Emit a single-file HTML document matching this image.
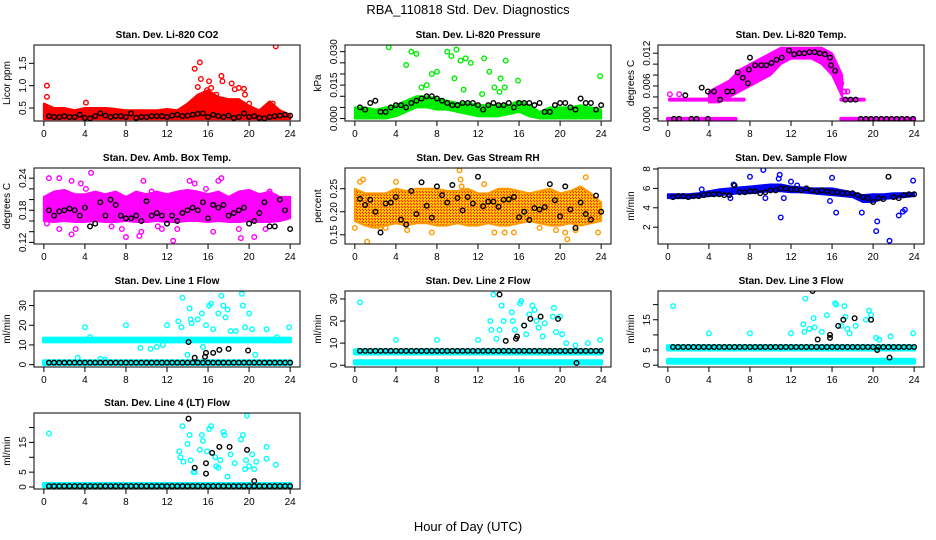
<!DOCTYPE html>
<html><head><meta charset="utf-8">
<style>
html,body{margin:0;padding:0;background:#fff;}
svg{display:block;font-family:"Liberation Sans",Arial,sans-serif;}
</style></head>
<body>
<svg id="chart" width="936" height="540" viewBox="0 0 936 540" xmlns="http://www.w3.org/2000/svg">
<defs>
<pattern id="rhpat" width="3" height="3" patternUnits="userSpaceOnUse">
<rect width="3" height="3" fill="#ffaa00"/><rect width="1" height="1" fill="#ff2200"/><rect x="1" y="1" width="1" height="1" fill="#ffee00"/><rect x="2" y="2" width="1" height="1" fill="#ff3300"/>
</pattern>
</defs>
<text x="468" y="14" text-anchor="middle" font-size="13">RBA_110818  Std. Dev. Diagnostics</text>
<text x="468" y="531" text-anchor="middle" font-size="13">Hour of Day (UTC)</text>
</svg>
<script>
const hours = [0,1,2,3,4,5,6,7,8,9,10,11,12,13,14,15,16,17,18,19,20,21,22,23,24];
const blackHours = [0.5,1,1.5,2,2.5,3,3.5,4,4.5,5,5.5,6,6.5,7,7.5,8,8.5,9,9.5,10,10.5,11,11.5,12,12.5,13,13.5,14,14.5,15,15.5,16,16.5,17,17.5,18,18.5,19,19.5,20,20.5,21,21.5,22,22.5,23,23.5,24];
const xTicks = [0,4,8,12,16,20,24];

// CO2
const co2Lo = [0.25,0.25,0.25,0.25,0.25,0.25,0.25,0.25,0.25,0.25,0.25,0.25,0.25,0.25,0.25,0.25,0.25,0.25,0.25,0.25,0.25,0.25,0.25,0.25,0.25];
const co2Hi = [0.6,0.5,0.5,0.45,0.5,0.5,0.5,0.48,0.45,0.45,0.45,0.45,0.48,0.45,0.6,0.8,0.9,0.75,0.7,0.7,0.55,0.45,0.65,0.45,0.35];
const co2OutX = [0.3,0.3,4.1,14.7,15.2,15.3,15.0,16.1,16.3,15.9,17.3,17.4,18.3,18.6,19.0,19.5,19.6,16.8,17.0,22.6,20.0,22.3];
const co2OutY = [1.0,0.75,0.62,1.38,1.52,1.15,0.97,1.1,0.95,0.9,1.22,1.1,1.05,0.92,0.95,0.93,0.8,0.8,0.7,1.88,0.6,0.6];
const co2Black = [0.32,0.3,0.3,0.32,0.3,0.3,0.35,0.28,0.27,0.32,0.38,0.33,0.3,0.32,0.32,0.3,0.38,0.28,0.3,0.3,0.32,0.32,0.32,0.3,0.33,0.35,0.32,0.33,0.35,0.37,0.38,0.3,0.35,0.32,0.3,0.33,0.28,0.3,0.38,0.3,0.32,0.28,0.27,0.3,0.32,0.33,0.35,0.33];

// Pressure
const prLo = [0,0,0,0,0.001,0.003,0.005,0.005,0.004,0.004,0.003,0.002,0.001,0.001,0.001,0.002,0.003,0.001,0,0,0,0,0,0,0];
const prHi = [0.005,0.005,0.004,0.005,0.006,0.008,0.01,0.01,0.009,0.008,0.007,0.007,0.006,0.006,0.006,0.006,0.008,0.006,0.003,0.005,0.005,0.005,0.006,0.005,0.004];
const prOutX = [3.3,5.0,5.5,6.0,6.5,7.0,7.5,8.0,9.0,9.4,9.7,9.9,10.3,10.8,10.6,11.3,12.4,12.6,13.1,13.6,14.1,14.2,14.6,14.7,15.9,23.9];
const prOutY = [0.032,0.024,0.030,0.029,0.014,0.015,0.020,0.021,0.030,0.028,0.018,0.031,0.026,0.027,0.013,0.025,0.011,0.027,0.021,0.014,0.012,0.018,0.014,0.026,0.017,0.019];
const prBlack = [0.005,0.004,0.007,0.008,0.003,0.003,0.005,0.006,0.006,0.005,0.007,0.008,0.009,0.01,0.01,0.009,0.008,0.007,0.006,0.006,0.007,0.007,0.007,0.006,0.004,0.006,0.007,0.006,0.006,0.007,0.005,0.007,0.007,0.007,0.006,0.007,0.003,0.003,0.006,0.007,0.007,0.005,0.004,0.009,0.007,0.007,0.004,0.006];

// Li-820 Temp
const tmLo = [null,null,null,null,0.003,0.003,0.004,0.005,0.006,0.007,0.008,0.01,0.011,0.011,0.011,0.01,0.008,0.004,null,null,null,null,null,null,null];
const tmHi = [null,null,null,null,0.005,0.006,0.007,0.009,0.01,0.011,0.012,0.013,0.013,0.013,0.013,0.013,0.012,0.008,null,null,null,null,null,null,null];
const tmSegX1 = [0,16.9,0.2,16.9];
const tmSegX2 = [6.6,24,7.4,19.1];
const tmSegY = [0,0,0.0035,0.0035];
const tmOutX = [0.2,1.1,16.9,17.2,17.5,16.5,6.3,7.0];
const tmOutY = [0.0045,0.0045,0.0065,0.005,0.005,0.009,0.006,0.0065];
const tmBlackX = [0.6,1.1,2.3,2.8,3.9,1.7,3.3,3.9,4.5,5.1,5.8,6.3,6.8,7.3,7.8,7.9,8.0,8.5,9.1,9.6,10.1,10.6,11.1,11.8,12.3,12.8,13.3,13.8,14.3,14.8,15.3,15.8,15.9,16.3,17.3,17.8,18.3,18.8,19.3,19.8,20.3,20.8,21.3,21.8,22.3,22.8,23.3,23.9];
const tmBlackY = [0,0,0,0,0,0.0043,0.0057,0.005,0.005,0.0035,0.005,0.005,0.0085,0.0075,0.0065,0.009,0.0112,0.0098,0.0098,0.0098,0.0102,0.0108,0.0112,0.0125,0.0118,0.012,0.012,0.0122,0.0122,0.012,0.0118,0.0112,0.0098,0.0088,0.0035,0.0035,0.0035,0,0,0,0,0,0,0,0,0,0,0];

// Amb box temp
const ambLo = [0.16,0.158,0.16,0.158,0.158,0.16,0.158,0.158,0.16,0.158,0.158,0.16,0.158,0.158,0.16,0.16,0.158,0.16,0.158,0.158,0.16,0.158,0.158,0.16,0.165];
const ambHi = [0.205,0.215,0.218,0.21,0.21,0.215,0.21,0.215,0.205,0.215,0.21,0.215,0.21,0.215,0.218,0.215,0.21,0.215,0.205,0.215,0.218,0.21,0.215,0.205,0.205];
const ambOutX = [0.5,0.3,1.5,2.7,3.1,4.6,1.5,2.7,3.6,6.6,7.6,8.0,9.3,9.7,10.5,11.5,12.6,13.0,14.2,14.7,16.5,17.0,17.3,19.0,19.2,20.5,20.8,21.6,22.0,23.3,4.1,9.5,11.1,15.8];
const ambOutY = [0.24,0.155,0.145,0.235,0.145,0.25,0.24,0.135,0.23,0.15,0.145,0.13,0.132,0.235,0.215,0.145,0.123,0.145,0.235,0.23,0.14,0.235,0.24,0.145,0.128,0.13,0.27,0.145,0.215,0.2,0.22,0.14,0.15,0.22];
const ambBlack = [0.18,0.17,0.178,0.18,0.183,0.18,0.17,0.185,0.15,0.155,0.195,0.17,0.2,0.19,0.17,0.165,0.165,0.17,0.16,0.197,0.17,0.175,0.17,0.155,0.17,0.16,0.175,0.18,0.185,0.18,0.195,0.165,0.19,0.185,0.19,0.17,0.175,0.18,0.185,0.155,0.16,0.175,0.195,0.15,0.15,0.2,0.18,0.145];

// Gas stream RH
const rhLo = [0.18,0.17,0.165,0.17,0.175,0.17,0.175,0.175,0.17,0.17,0.175,0.17,0.17,0.175,0.17,0.17,0.175,0.18,0.175,0.17,0.17,0.175,0.17,0.175,0.18];
const rhHi = [0.25,0.24,0.24,0.24,0.25,0.245,0.25,0.25,0.25,0.245,0.245,0.25,0.24,0.24,0.25,0.25,0.245,0.24,0.245,0.25,0.24,0.245,0.255,0.24,0.22];
const rhOutX = [0,0.5,0.8,4.0,5.1,7.5,10.2,10.3,10.4,12.6,13.6,14.6,15.5,18.0,19.6,20.5,20.7,21.5,22.5,23.7,1.2,1.7,3.0,2.5];
const rhOutY = [0.165,0.265,0.27,0.265,0.16,0.155,0.29,0.27,0.255,0.26,0.155,0.155,0.155,0.165,0.16,0.155,0.14,0.16,0.275,0.155,0.135,0.17,0.165,0.165];
const rhBlack = [0.228,0.215,0.226,0.2,0.155,0.218,0.22,0.232,0.183,0.172,0.245,0.195,0.264,0.213,0.187,0.255,0.236,0.22,0.258,0.23,0.203,0.232,0.218,0.276,0.212,0.222,0.222,0.211,0.226,0.227,0.232,0.188,0.2,0.182,0.208,0.205,0.21,0.26,0.225,0.19,0.255,0.205,0.165,0.22,0.195,0.183,0.235,0.2];

// Sample flow
const sfLo = [5.0,5.0,5.0,5.1,5.2,5.3,5.4,5.5,5.5,5.6,5.7,5.7,5.6,5.6,5.5,5.4,5.3,5.2,5.1,4.6,4.6,4.9,5.0,5.1,5.2];
const sfHi = [5.4,5.4,5.4,5.5,5.7,5.9,6.0,6.1,6.2,6.3,6.4,6.4,6.2,6.1,6.0,6.0,6.0,5.8,5.6,5.3,5.4,5.4,5.5,5.5,5.5];
const sfOutX = [3.3,6.1,6.4,8.0,9.3,9.5,10.8,10.9,11.0,11.3,12.0,15.8,16.0,16.4,18.9,20.3,20.4,21.6,22.5,22.9,23.1,23.9,12.6];
const sfOutY = [5.9,5.0,6.4,7.2,7.9,5.0,7.0,7.4,3.0,5.0,6.7,4.7,7.1,3.5,3.5,1.6,2.6,0.6,3.2,3.6,3.8,6.8,6.3];
const sfBlack = [5.1,5.2,5.2,5.1,5.2,5.2,5.3,5.4,5.4,5.4,5.3,5.3,6.3,5.6,5.6,5.7,5.7,5.5,5.6,5.8,5.8,6.0,6.0,5.9,5.9,5.8,6.0,5.8,5.7,5.8,5.7,5.6,5.6,5.5,5.5,5.5,5.3,5.1,5.0,4.6,5.0,4.9,7.2,5.1,5.0,5.3,5.4,5.4];

// Line 1
const l1SegX1 = [0,0]; const l1SegX2 = [24,24]; const l1SegLo = [11.8,0.3]; const l1SegHi = [13.2,1.7];
const l1OutX = [3.3,4.0,4.5,5.5,6,8,9.4,10.4,11,11.6,12,13.1,13.4,13.5,14.2,14.3,14.4,15,15.4,15.8,16.1,16.3,16.5,17.0,17.3,17.5,17.7,17.9,18.2,18.7,19.3,19.4,19.6,20.0,20.3,20.6,21.7,22.7,23.9,14.0,15.5];
const l1OutY = [3.5,19,14,3,2.5,20,8.5,8,9,10,20,22,19,34,28.5,23,21,23,26,20,30,31,18,26,35,30,24,28,17,17,36,30,19,26,18,5,18,14,19,5,9];
const l1BlackBase = 1;
const l1ExtraX = [14.1,14.7,15.7,15.8,16.5,17.1,18.0,19.9];
const l1ExtraY = [11.5,3.5,4,6,6,7.5,8,7.2];

// Line 2
const l2SegX1 = [0,0]; const l2SegX2 = [24,24]; const l2SegLo = [5.3,0.8]; const l2SegHi = [6.8,1.8];
const l2OutX = [0.5,4,8,12,13.2,13.3,13.5,14.1,14.3,14.5,15.3,15.4,15.6,16.1,16.2,16.5,17.0,17.3,17.5,17.7,17.9,18.3,19.3,19.4,19.6,20.0,20.2,20.6,21.5,22.7,23.9,13.8,16.7,18.5];
const l2OutY = [28.5,11.5,11.5,11.5,20,16,32,16,27,20,24,20,16,28,29,18,23,27,25,20,17,13,22,26,15,22,14,10,9,10,11.5,12,14,19];
const l2BlackBase = 6.5;
const l2ExtraX = [14.1,14.7,15.7,15.8,16.5,17.1,18.1,19.8,21.6];
const l2ExtraY = [32,11,12,13,18,21,22,21,1];

// Line 3
const l3SegX1 = [0,0]; const l3SegX2 = [24,24]; const l3SegLo = [5.2,0.8]; const l3SegHi = [6.3,1.8];
const l3OutX = [0.5,4,8,12,13.2,13.3,13.4,13.8,14.2,14.3,15.5,16.3,16.4,17.2,17.3,17.5,17.7,18.3,19.3,19.6,19.8,20.3,20.6,21.7,23.9,15.0,16.9];
const l3OutY = [19.5,10.5,10.5,10.5,13.5,11,22,12,15.5,12.5,16.5,20.5,20,19.5,16,12,10.5,13,15,18,16.5,9,8.5,9.5,10.5,11,13];
const l3BlackBase = 6;
const l3ExtraX = [14.1,14.6,15.8,15.8,16.6,17.1,18.2,19.8,21.6,20.4];
const l3ExtraY = [24.5,8.5,9,10,13,15,15.5,15,2.5,5];

// Line 4
const l4SegX1 = [0]; const l4SegX2 = [24]; const l4SegLo = [0.2]; const l4SegHi = [1.0];
const l4OutX = [0.5,13.2,13.3,13.5,13.6,14.0,14.2,14.3,14.7,15.2,15.4,15.5,15.9,16.1,16.3,16.7,17.0,17.2,17.5,17.6,17.9,18.2,18.6,19.2,19.4,19.6,19.7,20.0,20.3,20.5,20.7,21.7,21.7,22.6,14.6,16.8,19.8];
const l4OutY = [18,12,10,20.5,8.5,14.5,17.5,9,5,12.5,17.5,15.5,12,19.5,20.5,10,6.5,9,18.5,17.5,3.5,11,8,16,17.5,6,9,7,11,6,8.5,13.5,9.5,7.5,5,7,24];
const l4BlackBase = 0.3;
const l4ExtraX = [14.1,14.7,15.8,15.8,16.4,17.1,18.1,19.8,20.5];
const l4ExtraY = [23,6.5,8,4.5,11.5,13.5,13.5,12.5,2];

const NS = 'http://www.w3.org/2000/svg';
const svg = document.getElementById('chart');
const colX = [34,345,658];
const rowY = [45,168,291,413];
const PW = 266, PH = 76;

function el(tag, attrs, parent){
  const e = document.createElementNS(NS, tag);
  for (const k in attrs) e.setAttribute(k, attrs[k]);
  (parent||svg).appendChild(e);
  return e;
}

function panel(p){
  const g = el('g', {});
  
  
  const x0 = colX[p.col], y0 = rowY[p.row];
  const sx = v => x0 + (v + 0.96) / 25.92 * PW;
  const sy = v => y0 + PH - (v - p.ymin) / (p.ymax - p.ymin) * PH;
  const clipId = 'clip-' + p.name;
  const cp = el('clipPath', {id: clipId}, g);
  el('rect', {x: x0, y: y0, width: PW, height: PH}, cp);
  const marks = el('g', {'clip-path': 'url(#' + clipId + ')'}, g);
  
  
  const fill = p.fill || p.color;
  if (p.lo) {
    let runs = [], cur = [];
    for (let i = 0; i < hours.length; i++) {
      if (p.lo[i] === null) { if (cur.length) runs.push(cur); cur = []; }
      else cur.push(i);
    }
    if (cur.length) runs.push(cur);
    runs.forEach(r => {
      const top = r.map(i => sx(hours[i]) + ',' + sy(p.hi[i]));
      const bot = r.slice().reverse().map(i => sx(hours[i]) + ',' + sy(p.lo[i]));
      const poly = el('polygon', {points: top.concat(bot).join(' '), fill: fill, stroke: p.color, 'stroke-width': 2, 'stroke-linejoin': 'round'}, marks);
      
      
    });
  }
  if (p.segX1) {
    for (let i = 0; i < p.segX1.length; i++) {
      const lo = p.segLo ? p.segLo[i] : p.segY[i];
      const hi = p.segHi ? p.segHi[i] : p.segY[i];
      const r = el('rect', {x: sx(p.segX1[i]) - 2, y: sy(hi) - 2, width: sx(p.segX2[i]) - sx(p.segX1[i]) + 4, height: sy(lo) - sy(hi) + 4, fill: fill, rx: 2}, marks);
      
      
    }
  }
  for (let i = 0; i < p.outX.length; i++) {
    const c = el('circle', {cx: sx(p.outX[i]), cy: sy(p.outY[i]), r: 2.3, fill: 'none', stroke: p.color, 'stroke-width': 1.4}, marks);
    
    
  }
  for (let i = 0; i < p.bx.length; i++) {
    const c = el('circle', {cx: sx(p.bx[i]), cy: sy(p.by[i]), r: 2.3, fill: 'none', stroke: '#000', 'stroke-width': 1.4}, marks);
    
    
  }
  const box = el('rect', {x: x0, y: y0, width: PW, height: PH, fill: 'none', stroke: '#000', 'stroke-width': 1}, g);
  
  
  const t = el('text', {x: x0 + PW / 2, y: y0 - 7, 'text-anchor': 'middle', 'font-size': 10, 'font-weight': 'bold'}, g);
  t.textContent = p.title;
  
  
  xTicks.forEach(v => {
    const X = sx(v);
    el('line', {x1: X, x2: X, y1: y0 + PH, y2: y0 + PH + 5, stroke: '#000'}, g);
    const lt = el('text', {x: X, y: y0 + PH + 16, 'text-anchor': 'middle', 'font-size': 10}, g);
    lt.textContent = v;
    
    
  });
  p.ticks.forEach(v => {
    const Y = sy(v);
    el('line', {x1: x0, x2: x0 - 5, y1: Y, y2: Y, stroke: '#000'}, g);
  });
  p.labels.forEach(v => {
    const Y = sy(v);
    const lt = el('text', {x: x0 - 8, y: Y, 'text-anchor': 'middle', 'font-size': 10, transform: 'rotate(-90 ' + (x0 - 8) + ' ' + Y + ')'}, g);
    lt.textContent = p.fmt ? v.toFixed(p.fmt) : v;
    
    
  });
  const yt = el('text', {x: x0 - 24, y: y0 + PH / 2, 'text-anchor': 'middle', 'font-size': 10, transform: 'rotate(-90 ' + (x0 - 24) + ' ' + (y0 + PH / 2) + ')'}, g);
  yt.textContent = p.ylab;
  
  
}

const filled = v => blackHours.map(() => v);

panel({name:'co2', title:'Stan. Dev. Li-820 CO2', ylab:'Licor ppm', col:0,row:0, ymin:0.21,ymax:1.91, ticks:[0.5,1,1.5], labels:[0.5,1,1.5], fmt:1, color:'#ff0000', lo:co2Lo, hi:co2Hi, outX:co2OutX,outY:co2OutY, bx:blackHours, by:co2Black});
panel({name:'pressure', title:'Stan. Dev. Li-820 Pressure', ylab:'kPa', col:1,row:0, ymin:-0.0011,ymax:0.033, ticks:[0,0.005,0.01,0.015,0.02,0.025,0.03], labels:[0,0.015,0.03], fmt:3, color:'#00ee00', lo:prLo, hi:prHi, outX:prOutX,outY:prOutY, bx:blackHours, by:prBlack});
panel({name:'li820-temp', title:'Stan. Dev. Li-820 Temp.', ylab:'degrees C', col:2,row:0, ymin:-0.0004,ymax:0.0135, ticks:[0,0.002,0.004,0.006,0.008,0.01,0.012], labels:[0,0.006,0.012], fmt:3, color:'#ff00ff', lo:tmLo, hi:tmHi, segX1:tmSegX1, segX2:tmSegX2, segY:tmSegY, outX:tmOutX,outY:tmOutY, bx:tmBlackX, by:tmBlackY});
panel({name:'amb-temp', title:'Stan. Dev. Amb. Box Temp.', ylab:'degrees C', col:0,row:1, ymin:0.117,ymax:0.259, ticks:[0.12,0.14,0.16,0.18,0.2,0.22,0.24], labels:[0.12,0.18,0.24], fmt:2, color:'#ff00ff', lo:ambLo, hi:ambHi, outX:ambOutX,outY:ambOutY, bx:blackHours, by:ambBlack});
panel({name:'gas-rh', title:'Stan. Dev. Gas Stream RH', ylab:'percent', col:1,row:1, ymin:0.13,ymax:0.295, ticks:[0.15,0.2,0.25], labels:[0.15,0.2,0.25], fmt:2, color:'#ff9900', fill:'url(#rhpat)', lo:rhLo, hi:rhHi, outX:rhOutX,outY:rhOutY, bx:blackHours, by:rhBlack});
panel({name:'sample-flow', title:'Stan. Dev. Sample Flow', ylab:'ml/min', col:2,row:1, ymin:0.27,ymax:8.1, ticks:[2,4,6,8], labels:[2,4,6,8], color:'#0000ff', lo:sfLo, hi:sfHi, outX:sfOutX,outY:sfOutY, bx:blackHours, by:sfBlack});
panel({name:'line1-flow', title:'Stan. Dev. Line 1 Flow', ylab:'ml/min', col:0,row:2, ymin:-1.2,ymax:37.4, ticks:[0,10,20,30], labels:[0,10,20,30], color:'#00ffff', segX1:l1SegX1, segX2:l1SegX2, segLo:l1SegLo, segHi:l1SegHi, outX:l1OutX,outY:l1OutY, bx:blackHours.concat(l1ExtraX), by:filled(l1BlackBase).concat(l1ExtraY)});
panel({name:'line2-flow', title:'Stan. Dev. Line 2 Flow', ylab:'ml/min', col:1,row:2, ymin:-0.8,ymax:33.6, ticks:[0,10,20,30], labels:[0,10,20,30], color:'#00ffff', segX1:l2SegX1, segX2:l2SegX2, segLo:l2SegLo, segHi:l2SegHi, outX:l2OutX,outY:l2OutY, bx:blackHours.concat(l2ExtraX), by:filled(l2BlackBase).concat(l2ExtraY)});
panel({name:'line3-flow', title:'Stan. Dev. Line 3 Flow', ylab:'ml/min', col:2,row:2, ymin:-0.6,ymax:24.5, ticks:[0,5,10,15,20], labels:[0,5,15], color:'#00ffff', segX1:l3SegX1, segX2:l3SegX2, segLo:l3SegLo, segHi:l3SegHi, outX:l3OutX,outY:l3OutY, bx:blackHours.concat(l3ExtraX), by:filled(l3BlackBase).concat(l3ExtraY)});
panel({name:'line4-flow', title:'Stan. Dev. Line 4 (LT) Flow', ylab:'ml/min', col:0,row:3, ymin:-0.67,ymax:24.9, ticks:[0,5,10,15,20], labels:[0,5,15], color:'#00ffff', segX1:l4SegX1, segX2:l4SegX2, segLo:l4SegLo, segHi:l4SegHi, outX:l4OutX,outY:l4OutY, bx:blackHours.concat(l4ExtraX), by:filled(l4BlackBase).concat(l4ExtraY)});
</script>
</body></html>
